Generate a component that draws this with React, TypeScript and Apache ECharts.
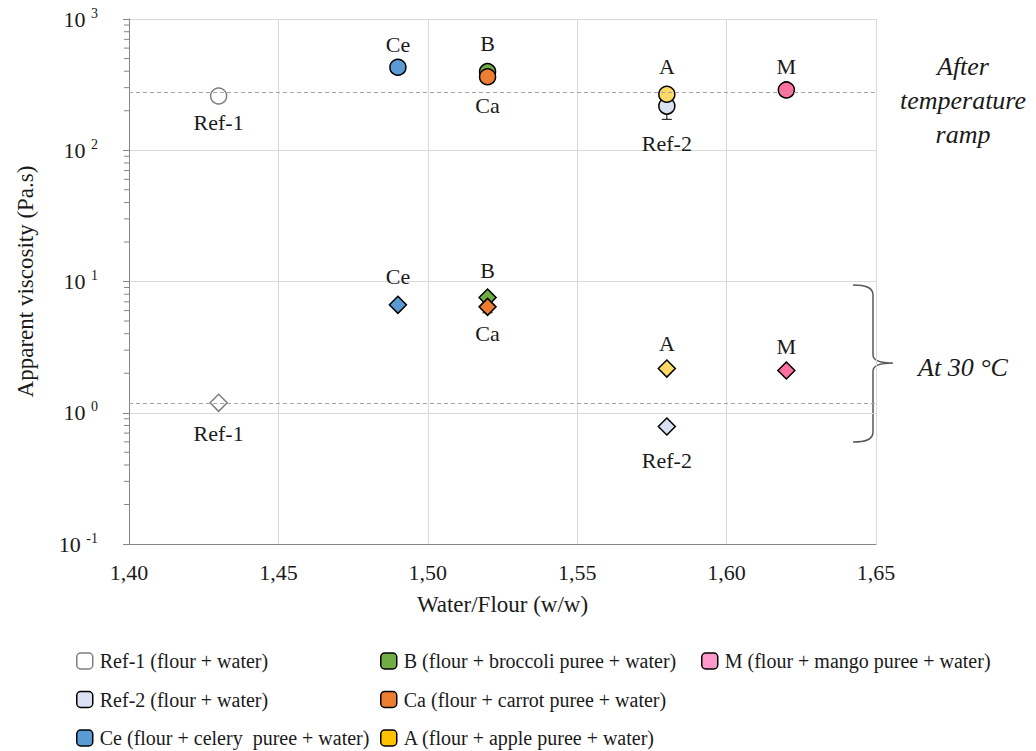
import React, { useEffect, useRef } from "react";
import * as echarts from "echarts";

// ---- data ----
const seriesNames = [
  "Ref-1 (flour + water)",
  "Ref-2 (flour + water)",
  "Ce (flour + celery  puree + water)",
  "B (flour + broccoli puree + water)",
  "Ca (flour + carrot puree + water)",
  "A (flour + apple puree + water)",
  "M (flour + mango puree + water)",
];
const shortLabels = ["Ref-1", "Ref-2", "Ce", "B", "Ca", "A", "M"];
const waterFlour = [1.43, 1.58, 1.49, 1.52, 1.52, 1.58, 1.62];
const viscosityAfterRamp = [259, 217, 429, 397, 363, 267, 288];
const viscosityAt30 = [1.19, 0.785, 6.64, 7.55, 6.41, 2.17, 2.1];
// error bars: [x, mean, lower]
const errorBars = [
  [1.58, 217, 172],
  [1.52, 6.41, 5.78],
];
const refLevelAfterRamp = 277;
const refLevelAt30 = 1.19;
const xMin = 1.4;
const xMax = 1.65;
const xInterval = 0.05;
const yMin = 0.1;
const yMax = 1000;
const minorFactors = [2, 3, 4, 5, 6, 7, 8, 9];
const minorDecades = [0.1, 1, 10, 100];

// ---- styles ----
const legendColors = ["#ffffff", "#d9e1f2", "#5b9bd5", "#70ad47", "#ed7d31", "#ffc000", "#ff99cc"];
const pointColors = ["#ffffff", "#d9e1f2", "#5b9bd5", "#70ad47", "#ed7d31", "#ffd966", "#ff6f9f"];
const borderColors = ["#7f7f7f", "#000", "#000", "#000", "#000", "#000", "#000"];
const rampLabelPos = ["bottom", "bottom", "top", "top", "bottom", "top", "top"];
const rampLabelDist = [7, 18, 3, 8, 9, 8, 4];
const at30LabelPos = ["bottom", "bottom", "top", "top", "bottom", "top", "top"];
const at30LabelDist = [10, 14, 8, 7, 6, 5, 4];

const FONT = "Liberation Serif";
const TXT = "#1a1a1a";

echarts.graphic.registerShape(
  "brace",
  echarts.graphic.extendPath(
    "M0,0 C12,0 20,2 20,10 L20,70 C20,76 28,78 40,78 C28,78 20,80 20,86 L20,147 C20,155 12,157 0,157",
    {}
  )
);

export default function App() {
  const ref = useRef<HTMLDivElement>(null);
  useEffect(() => {
    if (!ref.current) return;
    const chart = echarts.init(ref.current, undefined, { renderer: "svg" });

    const scatterSeries = seriesNames.map((name, i) => ({
      name,
      type: "scatter",
      z: 3,
      itemStyle: {
        color: legendColors[i],
        borderColor: borderColors[i],
        borderWidth: 1.5,
        opacity: 1,
      },
      data: [
        {
          value: [waterFlour[i], viscosityAfterRamp[i]],
          symbol: "circle",
          symbolSize: 16,
          itemStyle: { color: pointColors[i] },
          label: {
            show: true,
            formatter: shortLabels[i],
            position: rampLabelPos[i],
            distance: rampLabelDist[i],
            fontFamily: FONT,
            fontSize: 22,
            color: TXT,
            textBorderWidth: 0,
          },
        },
        {
          value: [waterFlour[i], viscosityAt30[i]],
          symbol: "diamond",
          symbolSize: 17,
          itemStyle: { color: pointColors[i] },
          label: {
            show: true,
            formatter: shortLabels[i],
            position: at30LabelPos[i],
            distance: at30LabelDist[i],
            fontFamily: FONT,
            fontSize: 22,
            color: TXT,
            textBorderWidth: 0,
          },
        },
      ],
      markLine:
        i === 0
          ? {
              silent: true,
              symbol: "none",
              label: { show: false },
              lineStyle: { color: "#a6a6a6", type: [4, 3], width: 1 },
              data: [{ yAxis: refLevelAfterRamp }, { yAxis: refLevelAt30 }],
            }
          : undefined,
    }));

    const minorTickValues: number[] = [];
    minorDecades.forEach((d) => minorFactors.forEach((f) => minorTickValues.push(f * d)));

    chart.setOption({
      animation: false,
      grid: { left: 129, top: 19, width: 747, height: 525 },
      xAxis: {
        type: "value",
        min: xMin,
        max: xMax,
        interval: xInterval,
        name: "Water/Flour (w/w)",
        nameLocation: "middle",
        nameGap: 49,
        nameTextStyle: { fontFamily: FONT, fontSize: 23, color: TXT },
        axisLine: { show: true, lineStyle: { color: "#868686", width: 1 } },
        axisTick: { show: false },
        axisLabel: {
          margin: 17,
          fontFamily: FONT,
          fontSize: 22,
          color: TXT,
          formatter: (v: number) => v.toFixed(2).replace(".", ","),
        },
        splitLine: { show: true, lineStyle: { color: "#d9d9d9", width: 1 } },
      },
      yAxis: {
        type: "log",
        logBase: 10,
        min: yMin,
        max: yMax,
        name: "Apparent viscosity (Pa.s)",
        nameLocation: "middle",
        nameGap: 92,
        nameTextStyle: { fontFamily: FONT, fontSize: 23, color: TXT },
        axisLine: { show: true, lineStyle: { color: "#868686", width: 1 } },
        axisTick: { show: true, length: 6, inside: false, lineStyle: { color: "#868686" } },
        axisLabel: {
          margin: 31,
          color: TXT,
          fontFamily: FONT,
          fontSize: 22,
          formatter: (v: number) => `{b|10 }{s|${Math.round(Math.log10(v))}}`,
          rich: {
            b: { fontFamily: FONT, fontSize: 22, lineHeight: 26, color: TXT },
            s: { fontFamily: FONT, fontSize: 14, lineHeight: 14, verticalAlign: "top", color: TXT },
          },
        },
        splitLine: { show: true, lineStyle: { color: "#d9d9d9", width: 1 } },
      },
      legend: [0, 1, 2].map((col) => ({
        orient: "vertical",
        left: [76, 380, 701][col],
        top: 651,
        padding: 0,
        height: 100,
        width: 320,
        itemWidth: 16,
        itemHeight: 16,
        itemGap: 18.5,
        icon: "roundRect",
        selectedMode: false,
        itemStyle: { borderWidth: 1.5 },
        textStyle: { fontFamily: FONT, fontSize: 20, lineHeight: 20, color: TXT, padding: [0, 0, 0, 2] },
        data: col === 0 ? seriesNames.slice(0, 3) : col === 1 ? seriesNames.slice(3, 6) : seriesNames.slice(6),
      })),
      series: [
        {
          type: "custom",
          name: "minorTicks",
          silent: true,
          z: 1,
          data: minorTickValues.map((v) => [xMin, v]),
          renderItem: (params: any, api: any) => {
            const p = api.coord([api.value(0), api.value(1)]);
            return {
              type: "line",
              shape: { x1: p[0] - 5, y1: p[1], x2: p[0], y2: p[1] },
              style: { stroke: "#868686", lineWidth: 1 },
            };
          },
        },
        {
          type: "custom",
          name: "errorBars",
          silent: true,
          z: 2,
          data: errorBars,
          renderItem: (params: any, api: any) => {
            const top = api.coord([api.value(0), api.value(1)]);
            const low = api.coord([api.value(0), api.value(2)]);
            return {
              type: "group",
              children: [
                {
                  type: "line",
                  shape: { x1: top[0], y1: top[1], x2: low[0], y2: low[1] },
                  style: { stroke: "#000", lineWidth: 1 },
                },
                {
                  type: "line",
                  shape: { x1: low[0] - 5, y1: low[1], x2: low[0] + 5, y2: low[1] },
                  style: { stroke: "#000", lineWidth: 1 },
                },
              ],
            };
          },
        },
        ...scatterSeries,
      ],
      graphic: [
        {
          type: "text",
          x: 963,
          y: 100,
          style: {
            text: "After\ntemperature\nramp",
            fontFamily: FONT,
            fontStyle: "italic",
            fontSize: 26,
            lineHeight: 34,
            fill: TXT,
            align: "center",
            verticalAlign: "middle",
          },
        },
        {
          type: "text",
          x: 963,
          y: 367,
          style: {
            text: "At 30 °C",
            fontFamily: FONT,
            fontStyle: "italic",
            fontSize: 26,
            fill: TXT,
            align: "center",
            verticalAlign: "middle",
          },
        },
        {
          type: "brace",
          x: 853,
          y: 285,
          style: { fill: "none", stroke: "#595959", lineWidth: 1.5 },
        },
      ],
    });
    return () => chart.dispose();
  }, []);
  return (
    <div
      ref={ref}
      style={{ position: "fixed", left: 0, top: 0, width: 1036, height: 751, background: "#fff" }}
    />
  );
}
